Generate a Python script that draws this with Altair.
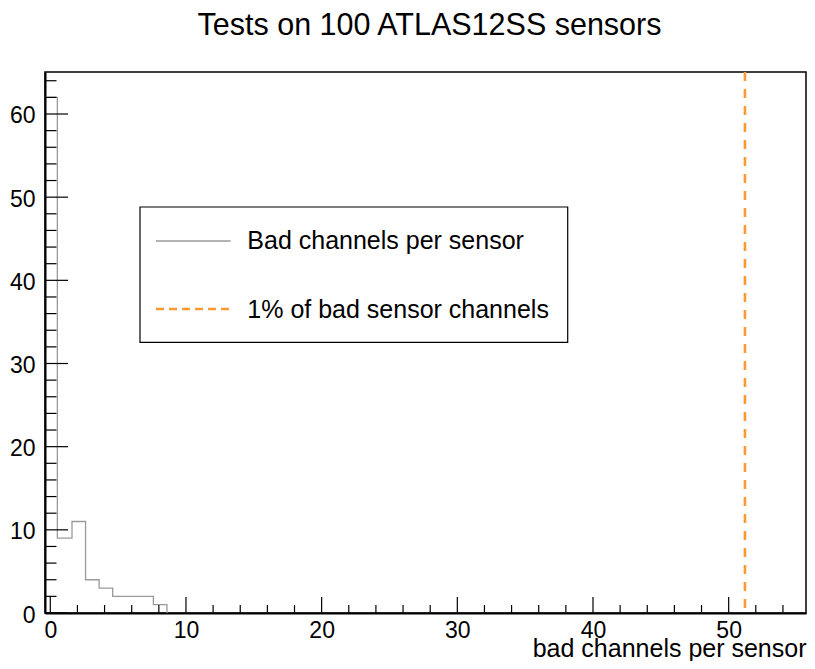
import altair as alt
import pandas as pd

# ---- data ----
bin_edges = [-0.39, 0.52, 1.6, 2.6, 3.6, 4.6, 5.6, 6.6, 7.6, 8.6]
bin_counts = [62, 9, 11, 4, 3, 2, 2, 2, 1]
threshold = 51.2  # 1% of 5120 channels

x_major = [0, 10, 20, 30, 40, 50]
x_minor = [2, 4, 6, 8, 12, 14, 16, 18, 22, 24, 26, 28, 32, 34, 36, 38, 42, 44, 46, 48, 52, 54]
y_major = [0, 10, 20, 30, 40, 50, 60]
y_minor = [2, 4, 6, 8, 12, 14, 16, 18, 22, 24, 26, 28, 32, 34, 36, 38, 42, 44, 46, 48, 52, 54, 56, 58, 62, 64]

title_text = "Tests on 100 ATLAS12SS sensors"
x_title = "bad channels per sensor"
legend_labels = ["Bad channels per sensor", "1% of bad sensor channels"]

X_DOMAIN = [-0.39, 55.7]
Y_DOMAIN = [0, 65.05]
W, H = 761, 541
FONT = "Liberation Sans"
GRAY = "#9a9a9a"
ORANGE = "#ff9933"

xs = alt.Scale(domain=X_DOMAIN, nice=False, zero=False)
ys = alt.Scale(domain=Y_DOMAIN, nice=False, zero=False)

x_axis = alt.Axis(
    values=x_major, format="d", ticks=False, tickSize=0, grid=False,
    domain=True, domainColor="black", domainWidth=2,
    labelFont=FONT, labelFontSize=23, labelColor="black",
    labelPadding=6, labelBaseline="top",
    title=x_title, titleFont=FONT, titleFontSize=25, titleFontWeight="normal",
    titleColor="black", titleAlign="right", titleBaseline="alphabetic",
    titleX=W, titleY=43.5,
)
y_axis = alt.Axis(
    values=y_major, format="d", ticks=False, tickSize=0, grid=False,
    domain=True, domainColor="black", domainWidth=2,
    labelFont=FONT, labelFontSize=23, labelColor="black",
    labelPadding=10, labelOffset=2, title="",
)

hist_df = pd.DataFrame({"x": bin_edges, "y": bin_counts + [0]})

hist = alt.Chart(hist_df).mark_line(
    interpolate="step-after", color=GRAY, strokeWidth=1.3
).encode(
    x=alt.X("x:Q", scale=xs, axis=x_axis),
    y=alt.Y("y:Q", scale=ys, axis=y_axis),
)

thr_df = pd.DataFrame({"x": [threshold]})
thr = alt.Chart(thr_df).mark_rule(
    color=ORANGE, strokeWidth=2.6, strokeDash=[9, 8]
).encode(
    x=alt.X("x:Q", scale=xs, axis=x_axis),
    y=alt.value(0), y2=alt.value(H),
)

def xticks(vals, length):
    return alt.Chart(pd.DataFrame({"x": vals})).mark_rule(
        color="black", strokeWidth=1.2
    ).encode(
        x=alt.X("x:Q", scale=xs, axis=x_axis),
        y=alt.value(H), y2=alt.value(H - length),
    )

def yticks(vals, length):
    return alt.Chart(pd.DataFrame({"y": vals})).mark_rule(
        color="black", strokeWidth=1.2
    ).encode(
        y=alt.Y("y:Q", scale=ys, axis=y_axis),
        x=alt.value(0), x2=alt.value(length),
    )

ticks = [xticks(x_major, 16), xticks(x_minor, 8), yticks(y_major, 23), yticks(y_minor, 11.5)]

# ---- legend box (ROOT TLegend style) ----
one = pd.DataFrame({"k": [0]})
box = alt.Chart(one).mark_rect(
    fill="white", stroke="black", strokeWidth=1.2
).encode(
    x=alt.value(95), x2=alt.value(522.7), y=alt.value(135), y2=alt.value(270.4)
)
leg_line1 = alt.Chart(one).mark_rule(color=GRAY, strokeWidth=1.3).encode(
    x=alt.value(111), x2=alt.value(185.7), y=alt.value(169)
)
leg_line2 = alt.Chart(one).mark_rule(color=ORANGE, strokeWidth=2.6, strokeDash=[8, 5]).encode(
    x=alt.value(111), x2=alt.value(185.7), y=alt.value(237)
)
leg_df = pd.DataFrame({"label": legend_labels})
leg_text1 = alt.Chart(leg_df.iloc[[0]]).mark_text(
    font=FONT, fontSize=25, align="left", baseline="alphabetic", color="black"
).encode(text="label:N", x=alt.value(202.3), y=alt.value(177))
leg_text2 = alt.Chart(leg_df.iloc[[1]]).mark_text(
    font=FONT, fontSize=25, align="left", baseline="alphabetic", color="black"
).encode(text="label:N", x=alt.value(202.3), y=alt.value(246))

chart = alt.layer(
    hist, thr, *ticks, box, leg_line1, leg_line2, leg_text1, leg_text2
).properties(
    width=W, height=H,
    title=alt.TitleParams(
        title_text, font=FONT, fontSize=30.5, fontWeight="normal", color="black",
        anchor="middle", frame="group", offset=29, dx=4,
    ),
    padding={"left": 37, "top": 64, "right": 1, "bottom": 48},
    autosize=alt.AutoSizeParams(type="none"),
    background="white",
).configure_view(
    stroke="black", strokeWidth=1.5
)

chart.save("out.html", embed_options={"renderer": "svg", "actions": False})
